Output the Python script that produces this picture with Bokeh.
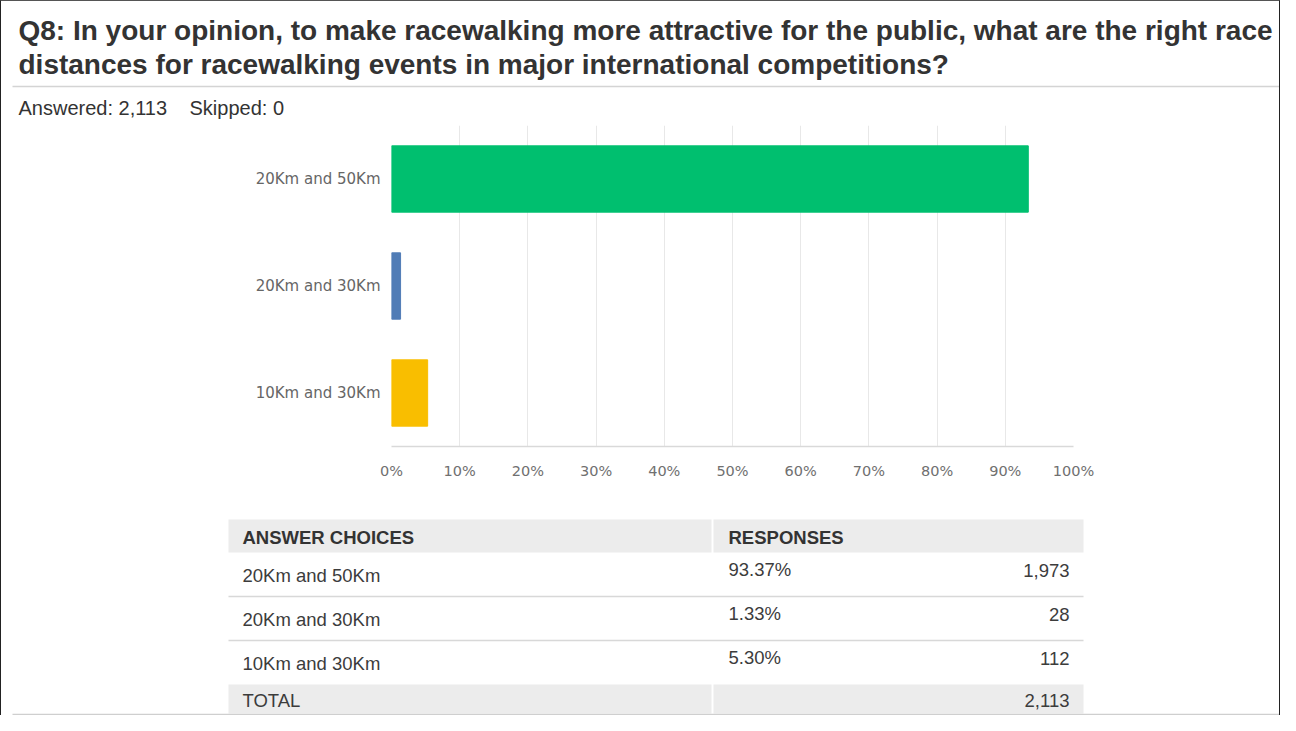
from bokeh.plotting import figure
from bokeh.models import ColumnDataSource, Range1d, FactorRange, FixedTicker, PrintfTickFormatter
from bokeh.layouts import column
from bokeh.core.properties import value
from bokeh.embed import file_html
from bokeh.resources import INLINE

# ---------------- data ----------------
title_lines = [
    "Q8: In your opinion,  to make racewalking more attractive for the public, what are the right race",
    "distances for racewalking events in major international competitions?",
]
answered = 2113
skipped = 0
choices = ["20Km and 50Km", "20Km and 30Km", "10Km and 30Km"]
percents = [93.37, 1.33, 5.30]
counts = [1973, 28, 112]
bar_colors = ["#00BF6F", "#507CB6", "#F9BE00"]
x_ticks = [0, 10, 20, 30, 40, 50, 60, 70, 80, 90, 100]

W = 1278
FONT = value("Liberation Sans")
AXFONT = "DejaVu Sans"


def no_align(f):
    try:
        f.frame_align = False
    except Exception:
        pass


def blank(height, y_top, y_bot):
    f = figure(width=W, height=height, x_range=Range1d(1, 1 + W), y_range=Range1d(y_bot, y_top),
               output_backend="svg", toolbar_location=None, min_border=0,
               x_axis_location=None, y_axis_location=None)
    f.min_border_left = f.min_border_right = f.min_border_top = f.min_border_bottom = 0
    f.grid.visible = False
    f.outline_line_color = None
    f.background_fill_color = "white"
    f.border_fill_color = "white"
    no_align(f)
    return f


# ---------------- header ----------------
h = blank(124, 1, 125)
h.text(x=[18, 18], y=[30, 64], text=title_lines, text_font=FONT, text_font_style="bold",
       text_font_size="28px", text_color="#333333", text_baseline="middle", text_align="left")
h.segment(x0=[12], y0=[86], x1=[1292], y1=[86], line_color="#d4d4d4", line_width=1.5)
h.text(x=[18, 189], y=[107, 107], text=[f"Answered: {answered:,}", f"Skipped: {skipped}"],
       text_font=FONT, text_font_size="20px", text_color="#333333",
       text_baseline="middle", text_align="left")

# ---------------- bar chart ----------------
src = ColumnDataSource(dict(choice=choices, pct=percents, color=bar_colors))
p = figure(width=W, height=385, y_range=FactorRange(factors=list(reversed(choices)), range_padding=0),
           x_range=Range1d(0, 100), output_backend="svg", toolbar_location=None)
no_align(p)
p.min_border_left = 390
p.min_border_right = 206
p.min_border_top = 0
p.min_border_bottom = 64
p.outline_line_color = None
p.hbar(y="choice", left=0, right="pct", height=0.62, color="color", source=src)

p.xaxis.ticker = FixedTicker(ticks=x_ticks)
p.xaxis.formatter = PrintfTickFormatter(format="%d%%")
p.xaxis.axis_line_color = "#d9d9d9"
p.xaxis.axis_line_width = 1.5
p.xaxis.major_tick_line_color = None
p.xaxis.minor_tick_line_color = None
p.xaxis.major_label_standoff = 10
p.xaxis.major_label_text_font = AXFONT
p.xaxis.major_label_text_font_size = "14.5px"
p.xaxis.major_label_text_color = "#707070"

p.yaxis.axis_line_color = None
p.yaxis.major_tick_line_color = None
p.yaxis.minor_tick_line_color = None
p.yaxis.major_label_standoff = 5
p.yaxis.major_label_text_font = AXFONT
p.yaxis.major_label_text_font_size = "15px"
p.yaxis.major_label_text_color = "#666666"

p.xgrid.ticker = FixedTicker(ticks=x_ticks)
p.xgrid.grid_line_color = "#e8e8e8"
p.ygrid.grid_line_color = None

# ---------------- table ----------------
t = blank(205, 510, 715)
tx0, tdiv0, tdiv1, tx1 = 228, 711, 713, 1083
head_top, head_bot = 519, 552
row_h = 44
rows_top = [head_bot + i * row_h for i in range(len(choices))]
total_top = rows_top[-1] + row_h
total_bot = 713

# header & total backgrounds
t.quad(left=[tx0, tdiv1, tx0, tdiv1], right=[tdiv0, tx1, tdiv0, tx1],
       top=[head_top, head_top, total_top, total_top],
       bottom=[head_bot, head_bot, total_bot, total_bot], fill_color="#ececec", line_color=None)
# row separators
seps = rows_top[1:]
t.segment(x0=[tx0] * len(seps), y0=seps, x1=[tx1] * len(seps), y1=seps,
          line_color="#d8d8d8", line_width=1.5)
t.segment(x0=[12], y0=[714], x1=[1292], y1=[714], line_color="#cfcfcf", line_width=1.5)

t.text(x=[242, 728], y=[(head_top + head_bot) / 2 + 1] * 2, text=["ANSWER CHOICES", "RESPONSES"],
       text_font=FONT, text_font_style="bold", text_font_size="18.5px", text_color="#333333",
       text_baseline="middle", text_align="left")
t.text(x=[242] * len(choices), y=[r + 23 for r in rows_top], text=choices, text_font=FONT,
       text_font_size="18.5px", text_color="#3c3c3c", text_baseline="middle", text_align="left")
t.text(x=[728] * len(choices), y=[r + 17 for r in rows_top], text=[f"{v:.2f}%" for v in percents],
       text_font=FONT, text_font_size="18.5px", text_color="#3c3c3c", text_baseline="middle",
       text_align="left")
t.text(x=[1069] * len(choices), y=[r + 18 for r in rows_top], text=[f"{c:,}" for c in counts],
       text_font=FONT, text_font_size="18.5px", text_color="#3c3c3c", text_baseline="middle",
       text_align="right")
t.text(x=[242], y=[(total_top + total_bot) / 2 + 1], text=["TOTAL"], text_font=FONT,
       text_font_size="18.5px", text_color="#3c3c3c", text_baseline="middle", text_align="left")
t.text(x=[1069], y=[(total_top + total_bot) / 2 + 1], text=[f"{sum(counts):,}"], text_font=FONT,
       text_font_size="18.5px", text_color="#3c3c3c", text_baseline="middle", text_align="right")

layout = column(h, p, t, spacing=0,
                styles={"border-left": "1px solid #222", "border-right": "1px solid #222",
                        "border-top": "1px solid #555"})

open("out.html", "w").write(file_html(layout, INLINE))
